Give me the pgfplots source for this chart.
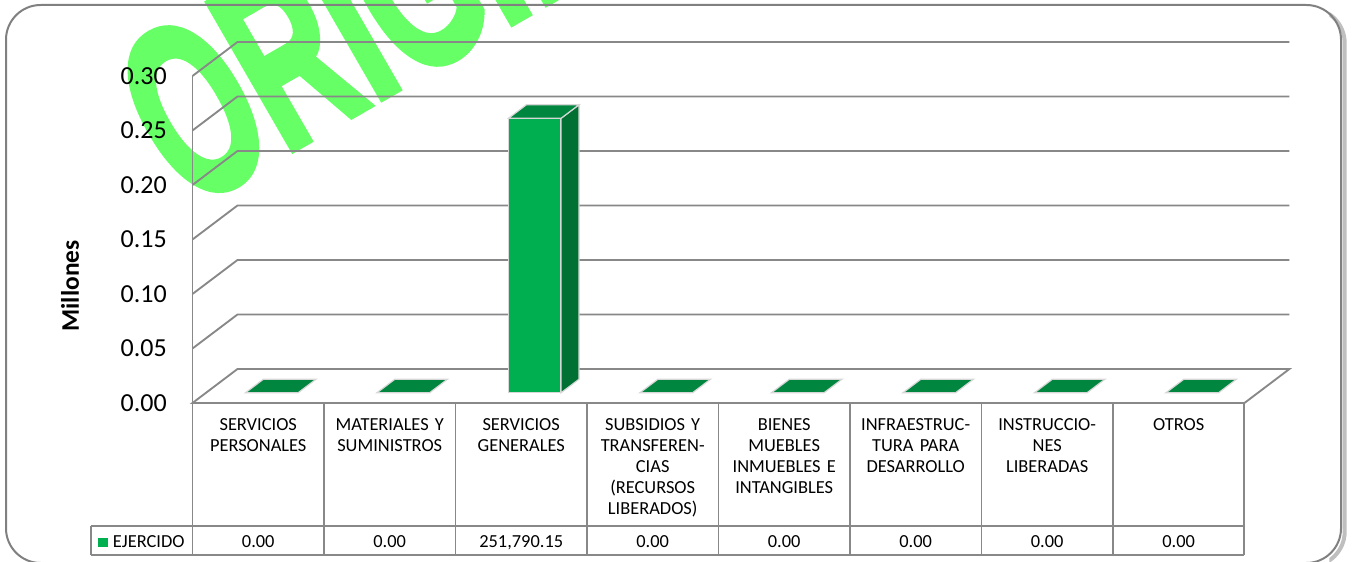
\documentclass[border=0pt]{standalone}
\usepackage{pgfplots}
\pgfplotsset{compat=1.18}
\usepackage{pgfplotstable}
\usepackage{fontspec}
\setmainfont{Carlito}
\newfontfamily\wmfont{Liberation Sans}[BoldFeatures={FakeBold=3}]

\definecolor{frontgreen}{RGB}{0,176,80}
\definecolor{sidegreen}{RGB}{0,112,51}
\definecolor{topgreen}{RGB}{0,134,62}
\definecolor{edgegray}{RGB}{215,215,215}
\definecolor{gridgray}{RGB}{136,136,136}
\definecolor{framegray}{RGB}{128,128,128}
\definecolor{wmgreen}{RGB}{102,255,102}

\pgfdeclareplotmark{topface}{%
  \pgfpathmoveto{\pgfpoint{-9.6pt}{7.65pt}}%
  \pgfpathlineto{\pgfpoint{29.85pt}{7.65pt}}%
  \pgfpathlineto{\pgfpoint{43.35pt}{17.85pt}}%
  \pgfpathlineto{\pgfpoint{3.9pt}{17.85pt}}%
  \pgfpathclose
  \pgfusepathqfillstroke
}

\pgfplotstableread{
x v lab
0 0 0.00
1 0 0.00
2 251790.15 251,790.15
3 0 0.00
4 0 0.00
5 0 0.00
6 0 0.00
7 0 0.00
}\data

\tikzset{gridline/.style={draw=gridgray, line width=1.4pt}}

\begin{document}
\begin{tikzpicture}
% watermark (behind everything)
\begin{scope}
\clip (0pt,0pt) rectangle (1014pt,420.75pt);
\node[anchor=base west, rotate=30, xscale=0.58, inner sep=0pt, text=wmgreen,
      font=\wmfont\bfseries\fontsize{184}{184}\selectfont] at (141pt,263.25pt) {ORIGINAL};
\end{scope}
% frame with shadow
\begin{scope}
\clip (997pt,-10pt) rectangle (1020pt,430pt);
\draw[gray!50, line width=3pt, rounded corners=26pt] (7pt,-4pt) rectangle (1008.5pt,414.5pt);
\end{scope}
\draw[framegray, line width=1.5pt, rounded corners=26pt] (4.5pt,-1.5pt) rectangle (1005.75pt,417pt);

\begin{axis}[
  at={(0pt,0pt)}, anchor=south west,
  width=1014pt, height=420.75pt, scale only axis,
  xmin=-1.9639, xmax=8.3175, ymin=-0.14495, ymax=0.36972,
  axis line style={draw=none},
  major tick length=0pt, tick style={draw=none},
  clip=false,
  ytick={0,0.05,0.10,0.15,0.20,0.25,0.30},
  scaled y ticks=false,
  yticklabel style={/pgf/number format/.cd, fixed, fixed zerofill, precision=2, assume math mode=true, /tikz/.cd,
     anchor=east, inner sep=0pt, xshift=125.25pt, font=\fontsize{19.5}{23}\selectfont},
  xtick={0,1,2,3,4,5,6,7},
  xticklabels={{SERVICIOS\\PERSONALES},{MATERIALES Y\\SUMINISTROS},{SERVICIOS\\GENERALES},
     {SUBSIDIOS Y\\TRANSFEREN-\\CIAS\\(RECURSOS\\LIBERADOS)},{BIENES\\MUEBLES\\INMUEBLES E\\INTANGIBLES},
     {INFRAESTRUC-\\TURA PARA\\DESARROLLO},{INSTRUCCIO-\\NES\\LIBERADAS},{OTROS}},
  xticklabel style={anchor=north, inner sep=0pt, yshift=107.25pt, text width=95pt, align=center,
     font=\fontsize{13.8}{15.75}\selectfont},
  ylabel={Millones},
  ylabel style={at={(rel axis cs:0.05178,0.4902)}, anchor=center, font=\fontsize{19}{23}\selectfont\bfseries},
]
% floor
\draw[gridline] (axis cs:-0.5,0) -- (axis cs:7.5,0) -- (axis cs:7.8422,0.03119) -- (axis cs:-0.1578,0.03119) -- cycle;
% back wall and side wall gridlines
\pgfplotsinvokeforeach{0.05,0.10,0.15,0.20,0.25,0.30}{
  \draw[gridline] (axis cs:-0.5,#1) -- (axis cs:-0.1578,{#1+0.03119}) -- (axis cs:7.8422,{#1+0.03119});
}
\draw[gridline] (axis cs:-0.5,0) -- (axis cs:-0.5,0.30);
% data table grid
\draw[gridline] (axis cs:-1.2719,-0.11284) -- (axis cs:7.5,-0.11284);
\draw[gridline] (axis cs:-1.2719,-0.13945) -- (axis cs:7.5,-0.13945);
\draw[gridline] (axis cs:-1.2719,-0.11284) -- (axis cs:-1.2719,-0.13945);
\pgfplotsinvokeforeach{-0.5,0.5,1.5,2.5,3.5,4.5,5.5,6.5,7.5}{
  \draw[gridline] (axis cs:#1,0) -- (axis cs:#1,-0.13945);
}
% bars: front faces
\addplot[ybar, bar width=0.4, bar shift=0.1027, yshift=7.65pt, fill=frontgreen, draw=edgegray, line width=0.9pt]
  table[x=x, y expr=\thisrow{v}/1000000]{\data};
% side face of the non-zero bar
\addplot[fill=sidegreen, draw=edgegray, line width=0.9pt]
  coordinates {(2.3027,0.00936) (2.4396,0.02184) (2.4396,0.27363) (2.3027,0.26115)} --cycle;
% top faces
\addplot[only marks, mark=topface, mark options={fill=topgreen, draw=edgegray, line width=0.9pt}]
  table[x=x, y expr=\thisrow{v}/1000000]{\data};
% values row
\addplot[draw=none, mark=none, nodes near coords, point meta=explicit symbolic,
   every node near coord/.append style={anchor=base, inner sep=0pt, font=\fontsize{13.8}{15.75}\selectfont}]
  table[x=x, y expr=-0.13211, meta=lab]{\data};
% legend cell
\node[anchor=base west, inner sep=0pt, font=\fontsize{13.8}{15.75}\selectfont] at (axis cs:-1.2186,-0.13211)
  {\textcolor{frontgreen}{\rule{7pt}{7pt}}\hspace{4pt}EJERCIDO};
\end{axis}
\pgfresetboundingbox
\path[use as bounding box] (0pt,0pt) rectangle (1014pt,420.75pt);
\end{tikzpicture}
\end{document}
